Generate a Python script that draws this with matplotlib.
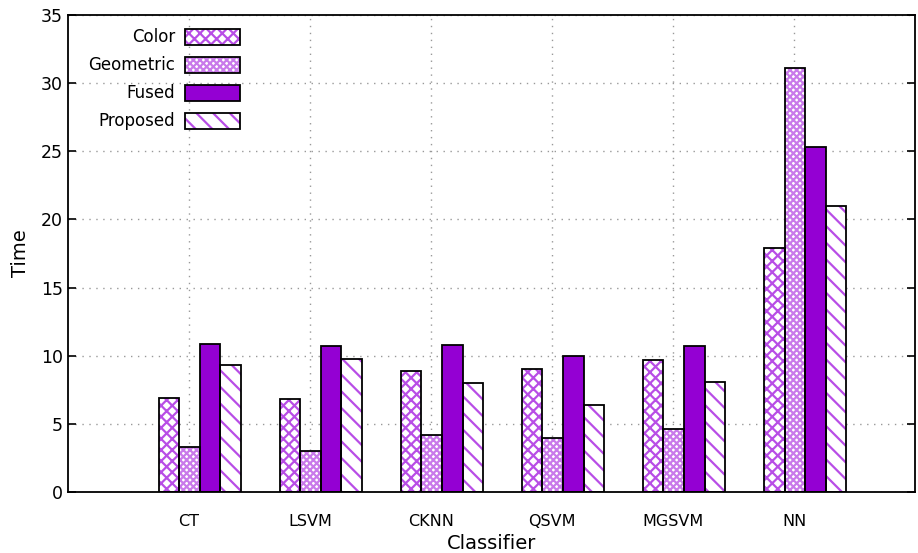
"""
Tiempo de cada clasificador por tipo de caracteristica (barras agrupadas)
"""

import matplotlib.pyplot as plt
from matplotlib.legend_handler import HandlerTuple
import numpy as np

# Datos
classifiers = ['CT', 'LSVM', 'CKNN', 'QSVM', 'MGSVM', 'NN']
series_names = ['Color', 'Geometric', 'Fused', 'Proposed']
color_time = [6.9, 6.8, 8.9, 9.0, 9.7, 17.9]
geometric_time = [3.3, 3.0, 4.2, 4.0, 4.6, 31.1]
fused_time = [10.9, 10.7, 10.8, 10.0, 10.7, 25.3]
proposed_time = [9.3, 9.8, 8.0, 6.4, 8.1, 21.0]

purple = '#9400d3'
light_purple = '#b84ee6'
hatches = ['xxx', 'xxxxx', '', '\\\\']
fills = ['white', 'white', purple, 'white']
hatch_cols = [light_purple, '#c97aea', purple, light_purple]

plt.rcParams['font.family'] = 'DejaVu Sans'
plt.rcParams['hatch.linewidth'] = 1.6

fig = plt.figure(figsize=(9.18, 5.53), dpi=100)
ax = fig.add_axes([0.074, 0.110, 0.923, 0.863])

x = np.arange(len(classifiers))
width = 0.17
offsets = [-0.25, -0.08, 0.09, 0.26]
all_series = [color_time, geometric_time, fused_time, proposed_time]

handles = []
for vals, off, h, fc, hc in zip(all_series, offsets, hatches, fills, hatch_cols):
    # relleno con trama en morado y luego el contorno negro encima
    b1 = ax.bar(x + off, vals, width, align='edge', color=fc, hatch=h,
                edgecolor=hc, linewidth=0, zorder=2)
    b2 = ax.bar(x + off, vals, width, align='edge', fill=False,
                edgecolor='black', linewidth=1.3, zorder=3)
    handles.append((b1.patches[0], b2.patches[0]))

ax.set_xlim(-1, 6)
ax.set_ylim(0, 35)
ax.set_xticks(x)
ax.set_xticklabels(classifiers, fontsize=11.5)
ax.set_yticks(np.arange(0, 36, 5))
ax.tick_params(axis='y', labelsize=12.5)
ax.tick_params(direction='in', length=6, width=1.2, top=True, right=True)
ax.tick_params(axis='x', length=0, pad=16)
for s in ax.spines.values():
    s.set_linewidth(1.3)
ax.grid(True, linestyle=(0, (1, 4)), color='#999999', linewidth=1.0, zorder=0)
ax.set_axisbelow(True)

ax.set_xlabel('Classifier', fontsize=14, labelpad=3)
ax.set_ylabel('Time', fontsize=14, labelpad=8)

ax.legend(handles, series_names, handler_map={tuple: HandlerTuple(ndivide=1)},
          loc='upper left', bbox_to_anchor=(0.008, 1.0), frameon=False,
          markerfirst=False, fontsize=12, handlelength=3.3, handleheight=1.1,
          labelspacing=0.6, handletextpad=0.6, borderaxespad=0.4)

plt.savefig('out.png', dpi=100)
